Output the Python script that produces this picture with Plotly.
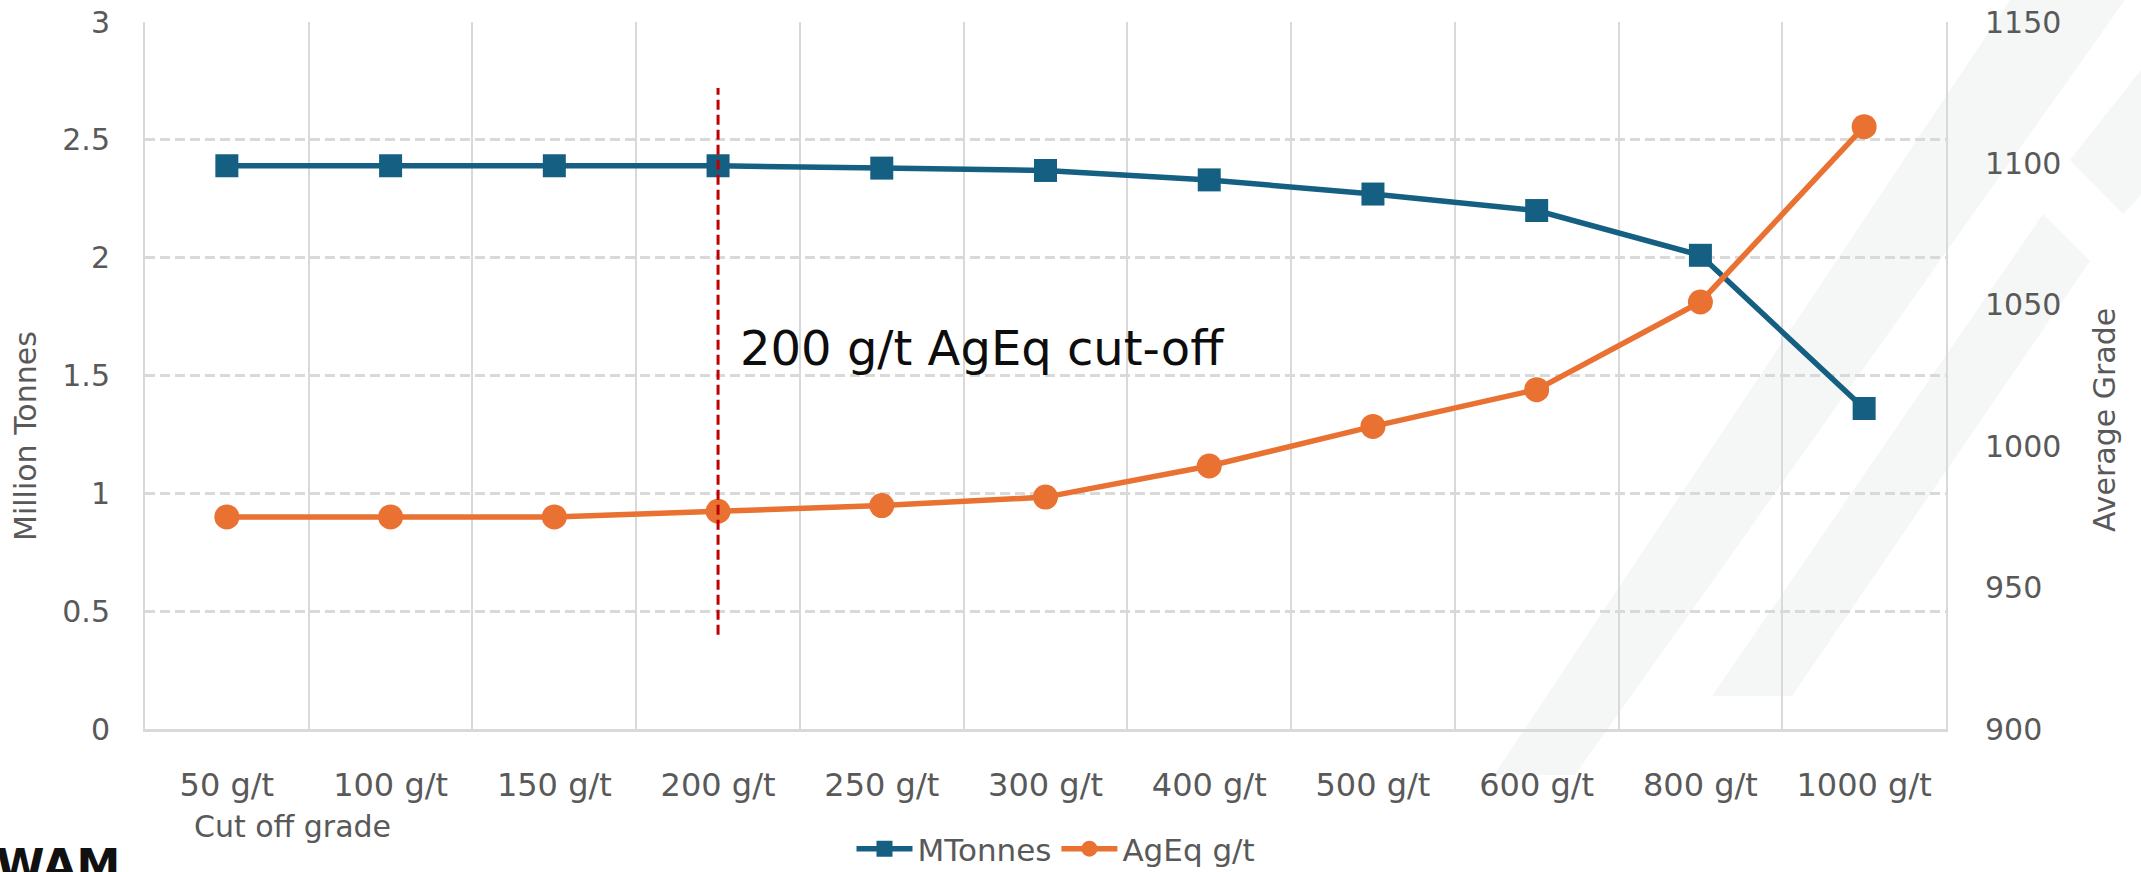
import plotly.graph_objects as go

# ---------------- data ----------------
categories = ["50 g/t", "100 g/t", "150 g/t", "200 g/t", "250 g/t", "300 g/t",
              "400 g/t", "500 g/t", "600 g/t", "800 g/t", "1000 g/t"]
mtonnes = [2.39, 2.39, 2.39, 2.39, 2.38, 2.37, 2.33, 2.27, 2.20, 2.01, 1.36]
ageq = [975, 975, 975, 977, 979, 982, 993, 1007, 1020, 1051, 1113]

cutoff_category = "200 g/t"
cutoff_y = [0.40, 2.72]
cutoff_label = "200 g/t AgEq cut-off"

y_ticks = [0, 0.5, 1, 1.5, 2, 2.5, 3]
y2_ticks = [900, 950, 1000, 1050, 1100, 1150]

# ---------------- layout geometry ----------------
W, H = 2141, 872
L, R, T, B = 145, 195, 22, 143
PW, PH = W - L - R, H - T - B


def px(x):
    return (x - L) / PW


def py(y):
    return (H - B - y) / PH


FONT = "DejaVu Sans"
GREY = "#595959"
GRID = "#d9d9d9"
BLUE = "#156082"
ORANGE = "#E97132"

fig = go.Figure()

fig.add_trace(go.Scatter(
    x=categories, y=mtonnes, name="MTonnes", mode="lines+markers",
    line=dict(color=BLUE, width=5.5),
    marker=dict(symbol="square", size=23, color=BLUE),
    yaxis="y", cliponaxis=False,
))
fig.add_trace(go.Scatter(
    x=categories, y=ageq, name="AgEq g/t", mode="lines+markers",
    line=dict(color=ORANGE, width=5.5),
    marker=dict(symbol="circle", size=25, color=ORANGE),
    yaxis="y2", cliponaxis=False,
))

# cut-off line
ci = categories.index(cutoff_category)
fig.add_shape(type="line", xref="x", yref="y", x0=ci, x1=ci,
              y0=cutoff_y[0], y1=cutoff_y[1],
              line=dict(color="#C00000", width=3, dash="10px,5px"), layer="above")

# watermark (decorative light stripes)
wm_polys = [
    [(1494, 775), (1575, 775), (2125, 0), (2010, 0)],
    [(1712, 696), (1792, 696), (2090, 261), (2043, 214)],
    [(2141, 70), (2070, 160), (2123, 214), (2141, 195)],
]
for poly in wm_polys:
    path = "M " + " L ".join(f"{px(a):.5f},{py(b):.5f}" for a, b in poly) + " Z"
    fig.add_shape(type="path", xref="paper", yref="paper", path=path,
                  fillcolor="#f5f7f6", line=dict(width=0), layer="below")

annotations = [
    dict(text=cutoff_label, xref="paper", yref="paper", x=px(738), y=py(348),
         xanchor="left", yanchor="middle", showarrow=False,
         font=dict(family=FONT, size=48, color="#0d0d0d")),
    dict(text="Million Tonnes", xref="paper", yref="paper", x=px(25), y=py(436),
         xanchor="center", yanchor="middle", textangle=-90, showarrow=False,
         font=dict(family=FONT, size=30, color=GREY)),
    dict(text="Average Grade", xref="paper", yref="paper", x=px(2104), y=py(420),
         xanchor="center", yanchor="middle", textangle=-90, showarrow=False,
         font=dict(family=FONT, size=30, color=GREY)),
    dict(text="Cut off grade", xref="paper", yref="paper", x=px(292), y=py(826),
         xanchor="center", yanchor="middle", showarrow=False,
         font=dict(family=FONT, size=30, color=GREY)),
    dict(text="<b>WAM</b>", xref="paper", yref="paper", x=px(-6), y=py(866),
         xanchor="left", yanchor="middle", showarrow=False,
         font=dict(family=FONT, size=44, color="#111111")),
]

fig.update_layout(
    width=W, height=H,
    margin=dict(l=L, r=R, t=T, b=B, pad=0, autoexpand=False),
    paper_bgcolor="white", plot_bgcolor="white",
    font=dict(family=FONT, size=30, color=GREY),
    showlegend=True,
    legend=dict(orientation="h", x=px(1056), y=py(849), xanchor="center",
                yanchor="middle", font=dict(family=FONT, size=31, color=GREY),
                bgcolor="rgba(0,0,0,0)", itemwidth=56, tracegroupgap=0),
    xaxis=dict(
        type="category", categoryorder="array", categoryarray=categories,
        range=[-0.5, len(categories) - 0.5],
        tickson="boundaries", ticks="", showgrid=True, gridcolor=GRID, gridwidth=2,
        showline=True, linecolor=GRID, linewidth=3,
        tickfont=dict(family=FONT, size=32, color=GREY),
        ticklabelstandoff=26, fixedrange=True,
    ),
    yaxis=dict(
        range=[0, 3], tickvals=y_ticks, ticktext=[f"{v:g}" for v in y_ticks],
        showgrid=True, gridcolor=GRID, gridwidth=3, griddash="10px,5px",
        zeroline=False, showline=True, linecolor=GRID, linewidth=2,
        ticks="", ticklabelstandoff=27,
        tickfont=dict(family=FONT, size=30, color=GREY),
    ),
    yaxis2=dict(
        range=[900, 1150], tickvals=y2_ticks, ticktext=[str(v) for v in y2_ticks],
        overlaying="y", side="right", showgrid=False, zeroline=False,
        showline=True, linecolor=GRID, linewidth=2, ticks="", ticklabelstandoff=31,
        tickfont=dict(family=FONT, size=30, color=GREY),
    ),
    annotations=annotations,
)

fig.write_html("out.html")
